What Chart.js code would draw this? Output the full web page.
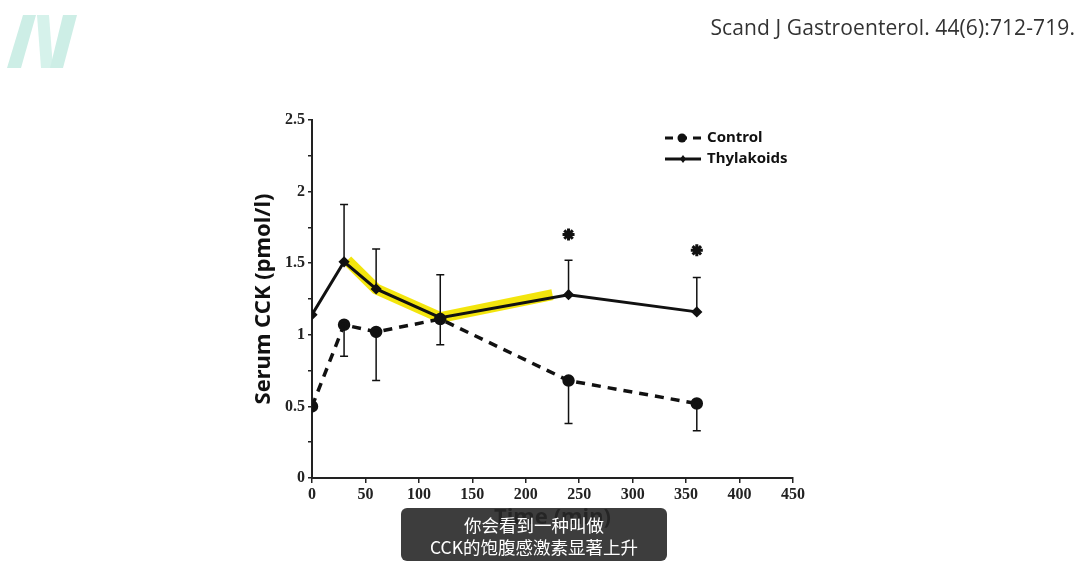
<!doctype html>
<html>
<head>
<meta charset="UTF-8"/>
<title>Serum CCK</title>
<script src="https://cdn.jsdelivr.net/npm/chart.js@4.4.1/dist/chart.umd.min.js"></script>
<style>
  body { margin: 0; background: #fff; width: 1080px; height: 586px; overflow: hidden; position: relative; }
  #wrap { position: absolute; left: 0; top: 0; width: 1080px; height: 586px; }
  #cite { position: absolute; right: 5px; top: 13px; font-family: "Open Sans", sans-serif; font-size: 21px; color: #333; letter-spacing: 0.1px; white-space: nowrap; }
  #logo { position: absolute; left: 0; top: 0; }
  #caption { position: absolute; left: 401px; top: 508px; width: 266px; height: 53px; background: rgba(40,40,40,0.9); border-radius: 6px;
             color: #fff; font-family: "Noto Sans CJK SC", sans-serif; font-size: 17.5px; line-height: 22px; text-align: center; padding-top: 6px; box-sizing: border-box; }
</style>
</head>
<body>
<div id="wrap"><canvas id="myChart" width="1080" height="586"></canvas></div>
<svg id="logo" width="90" height="80" viewBox="0 0 90 80">
  <polygon points="23,15 36,15 21,68 7,68" fill="#cdeee6"/>
  <polygon points="37,15 49,15 53,68 41,68" fill="#d6f2eb"/>
  <polygon points="63,15 77,15 63,68 50,68" fill="#cdeee6"/>
</svg>
<div id="cite">Scand J Gastroenterol. 44(6):712-719.</div>
<div id="caption">你会看到一种叫做<br>CCK的饱腹感激素显著上升</div>

<script>
    // time points (min)
    const times      = [0, 30, 60, 120, 240, 360];
    const control    = [0.50, 1.07, 1.02, 1.11, 0.68, 0.52];
    const controlLow = [null, 0.85, 0.68, 0.93, 0.38, 0.33];
    const thylakoids = [1.14, 1.51, 1.32, 1.12, 1.28, 1.16];
    const thylaHigh  = [null, 1.91, 1.60, 1.42, 1.52, 1.40];
    // yellow marker highlight drawn over the thylakoid curve
    const highlightX = [33, 60, 120, 225];
    const highlightY = [1.52, 1.32, 1.12, 1.28];
    // significance stars
    const starX = [240, 360];
    const starY = [1.70, 1.59];

    const xyOf = (xs, ys) => xs.map((x, i) => ({x: x, y: ys[i]}));

    const errorBars = {
        id: 'errorBars',
        afterDatasetsDraw(chart) {
            const c = chart.ctx, xs = chart.scales.x, ys = chart.scales.y;
            c.save();
            c.strokeStyle = '#111';
            c.lineWidth = 1.5;
            const bar = (t, from, to) => {
                const px = xs.getPixelForValue(t);
                const y0 = ys.getPixelForValue(from), y1 = ys.getPixelForValue(to);
                c.beginPath();
                c.moveTo(px, y0); c.lineTo(px, y1);
                c.moveTo(px - 4, y1); c.lineTo(px + 4, y1);
                c.stroke();
            };
            times.forEach((t, i) => {
                if (controlLow[i] != null) bar(t, control[i], controlLow[i]);
                if (thylaHigh[i] != null) bar(t, thylakoids[i], thylaHigh[i]);
            });
            c.restore();
        }
    };

    const legendPlugin = {
        id: 'customLegend',
        afterDraw(chart) {
            const c = chart.ctx;
            c.save();
            c.strokeStyle = '#111';
            c.fillStyle = '#111';
            c.lineWidth = 3;
            // Control
            c.setLineDash([8, 6]);
            c.beginPath(); c.moveTo(665, 138); c.lineTo(701, 138); c.stroke();
            c.setLineDash([]);
            c.beginPath(); c.arc(682, 138, 4.5, 0, Math.PI * 2); c.fill();
            // Thylakoids
            c.beginPath(); c.moveTo(665, 159); c.lineTo(701, 159); c.stroke();
            c.beginPath(); c.moveTo(683, 155); c.lineTo(686, 159); c.lineTo(683, 163); c.lineTo(680, 159); c.closePath(); c.fill();
            c.font = 'bold 15px "Noto Sans", sans-serif';
            c.textBaseline = 'middle';
            c.fillText('Control', 707, 138);
            c.fillText('Thylakoids', 707, 159);
            c.restore();
        }
    };

    const tickFont = {family: '"Liberation Serif", serif', size: 16, weight: 'bold'};

    new Chart(document.getElementById('myChart').getContext('2d'), {
        type: 'scatter',
        data: {
            datasets: [
                {
                    label: 'Control',
                    data: xyOf(times, control),
                    showLine: true,
                    borderColor: '#111',
                    backgroundColor: '#111',
                    borderWidth: 3.5,
                    borderDash: [9, 7],
                    pointRadius: 4.5,
                    pointStyle: 'circle',
                    order: 1
                },
                {
                    label: 'Thylakoids',
                    data: xyOf(times, thylakoids),
                    showLine: true,
                    borderColor: '#111',
                    backgroundColor: '#111',
                    borderWidth: 3,
                    pointRadius: 3.5,
                    pointStyle: 'rectRot',
                    order: 1
                },
                {
                    label: 'highlight',
                    data: xyOf(highlightX, highlightY),
                    showLine: true,
                    borderColor: 'rgba(242,228,0,0.95)',
                    borderWidth: 11,
                    pointRadius: 0,
                    order: 3
                },
                {
                    label: 'sig',
                    data: xyOf(starX, starY),
                    showLine: false,
                    pointStyle: 'star',
                    pointRadius: 6,
                    borderWidth: 3,
                    borderColor: '#111',
                    backgroundColor: '#111',
                    order: 1
                }
            ]
        },
        options: {
            responsive: false,
            animation: false,
            layout: {padding: {left: 249, right: 287, top: 120, bottom: 53}},
            plugins: {legend: {display: false}, tooltip: {enabled: false}},
            scales: {
                x: {
                    type: 'linear',
                    min: 0, max: 450,
                    ticks: {stepSize: 50, color: '#222', font: tickFont, padding: 2},
                    grid: {display: true, drawOnChartArea: false, tickLength: 5, color: '#222', lineWidth: 1.5},
                    border: {color: '#222', width: 2},
                    title: {display: true, text: 'Time (min)', color: '#111', padding: {top: 4, bottom: 2}, font: {family: '"Noto Sans", sans-serif', size: 22, weight: 'bold'}},
                    afterFit(scale) { scale.height = 55; }
                },
                y: {
                    min: 0, max: 2.5,
                    ticks: {
                        stepSize: 0.25, color: '#222', font: tickFont, padding: 3,
                        callback: (v) => (Math.abs(v * 2 - Math.round(v * 2)) < 1e-6 ? String(v) : '')
                    },
                    grid: {display: true, drawOnChartArea: false, tickLength: 4, color: '#222', lineWidth: 1.5},
                    border: {color: '#222', width: 2},
                    title: {display: true, text: 'Serum CCK (pmol/l)', color: '#111', padding: {top: 2, bottom: 4}, font: {family: '"Noto Sans", sans-serif', size: 22, weight: 'bold'}},
                    afterFit(scale) { scale.width = 63; }
                }
            }
        },
        plugins: [errorBars, legendPlugin]
    });
</script>
</body>
</html>
